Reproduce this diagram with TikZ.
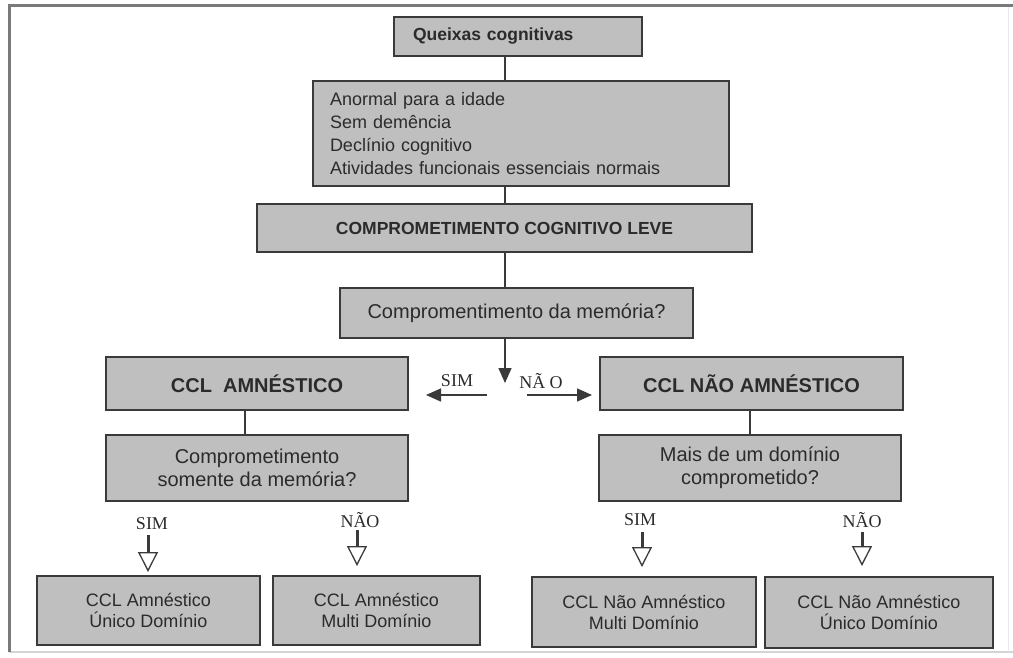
\documentclass[tikz,border=0pt]{standalone}
\usepackage{fontspec}
\setmainfont{Liberation Sans}
\newfontfamily\tms{Liberation Serif}
\usetikzlibrary{arrows.meta}
\definecolor{boxfill}{HTML}{BFBFBF}
\definecolor{boxline}{HTML}{3A3A3A}
\definecolor{txt}{HTML}{2B2B2B}
\definecolor{framedark}{HTML}{7A7A7A}
\definecolor{framelight}{HTML}{D4D4D4}
\tikzset{
 box/.style={draw=boxline, fill=boxfill, line width=2pt, inner sep=0pt, text=txt, align=center},
 lbl/.style={font=\tms\fontsize{18}{20}\selectfont, text=txt, inner sep=0pt},
 conn/.style={draw=boxline, line width=1.5pt},
 solidtip/.style={conn, -{Triangle[length=15pt,width=13pt]}},
 opentip/.style={draw=boxline, line width=3pt, -{Triangle[open,length=20pt,width=20pt,line width=1.3pt]}},
 regtext/.style={font=\fontsize{20}{23}\selectfont},
 smalltext/.style={font=\fontsize{18}{21}\selectfont},
 boldtitle/.style={font=\bfseries\fontsize{20}{23}\selectfont},
}
\begin{document}
\begin{tikzpicture}[x=1pt,y=-1pt]
\useasboundingbox (0,0) rectangle (1013,657);
% frame
\draw[framelight, line width=1.5pt] (9,652) -- (1013,652);
\draw[framelight!50, line width=1pt] (1008,5) -- (1008,652);
\draw[framedark, line width=3pt] (9,652) -- (9,5) -- (1013,5);

% boxes
\node[box, minimum width=248pt, minimum height=39pt, text width=210pt, inner xsep=19pt, align=left,
      font=\bfseries\fontsize{17.5}{20}\selectfont] (q) at (518,36.5) {Queixas cognitivas};
\node[box, minimum width=416pt, minimum height=105pt, text width=382pt, inner xsep=17pt, align=left,
      font=\fontsize{18}{23}\selectfont] (crit) at (521,133.5)
  {Anormal para a idade\\Sem demência\\Declínio cognitivo\\Atividades funcionais essenciais normais};
\node[box, minimum width=495pt, minimum height=48pt, font=\bfseries\fontsize{17.5}{20}\selectfont] (ccl) at (504.5,228)
  {COMPROMETIMENTO COGNITIVO LEVE};
\node[box, minimum width=353pt, minimum height=50pt, regtext] (mem) at (516.5,313)
  {Compromentimento da memória?};
\node[box, minimum width=302pt, minimum height=53pt, boldtitle] (amn) at (257,383.5) {CCL\ \ AMNÉSTICO};
\node[box, minimum width=303pt, minimum height=53pt, boldtitle] (namn) at (751.5,383.5) {CCL NÃO AMNÉSTICO};
\node[box, minimum width=302pt, minimum height=66pt, regtext] (q2l) at (257,468)
  {Comprometimento\\somente da memória?};
\node[box, minimum width=302pt, minimum height=66pt, regtext] (q2r) at (750,468)
  {Mais de um domínio\\comprometido?};
\node[box, minimum width=223pt, minimum height=69pt, smalltext] (b1) at (148.5,610.5)
  {CCL Amnéstico\\Único Domínio};
\node[box, minimum width=207pt, minimum height=69pt, smalltext] (b2) at (376.5,610.5)
  {CCL Amnéstico\\Multi Domínio};
\node[box, minimum width=224pt, minimum height=70pt, smalltext] (b3) at (644,612)
  {CCL Não Amnéstico\\Multi Domínio};
\node[box, minimum width=228pt, minimum height=71pt, smalltext] (b4) at (879,612.5)
  {CCL Não Amnéstico\\Único Domínio};

% spine connectors
\coordinate (sp) at (505,0);
\coordinate (split) at (505,383);
\draw[conn] (q.south -| sp) -- (crit.north -| sp);
\draw[conn] (crit.south -| sp) -- (ccl.north -| sp);
\draw[conn] (ccl.south -| sp) -- (mem.north -| sp);
\draw[solidtip] (mem.south -| sp) -- (split);

% SIM / NAO at split
\node[lbl] (sim0) at (457,381) {SIM};
\node[lbl] (nao0) at (541,381) {NÃ O};
\coordinate (sl) at (487,395);
\coordinate (sr) at (527,395);
\draw[solidtip, shorten >=17pt] (sl) -- (amn.east |- sl);
\draw[solidtip, shorten >=7pt] (sr) -- (namn.west |- sr);

% second level connectors
\coordinate (xl) at (245,0);
\draw[conn] (amn.south -| xl) -- (q2l.north -| xl);
\draw[conn] (namn.south -| q2r.north) -- (q2r.north);

% bottom labels and open arrows
\node[lbl] (sim1) at (152,524) {SIM};
\node[lbl] (nao1) at (360,520) {NÃO};
\node[lbl] (sim2) at (640,520) {SIM};
\node[lbl] (nao2) at (862,520) {NÃO};
\coordinate (a1) at (148,535);
\coordinate (a2) at (357,530);
\coordinate (a3) at (642,532);
\coordinate (a4) at (862,532);
\draw[opentip, shorten >=3pt] (a1) -- (b1.north -| a1);
\draw[opentip, shorten >=9pt] (a2) -- (b2.north -| a2);
\draw[opentip, shorten >=9pt] (a3) -- (b3.north -| a3);
\draw[opentip, shorten >=10pt] (a4) -- (b4.north -| a4);
\end{tikzpicture}
\end{document}
